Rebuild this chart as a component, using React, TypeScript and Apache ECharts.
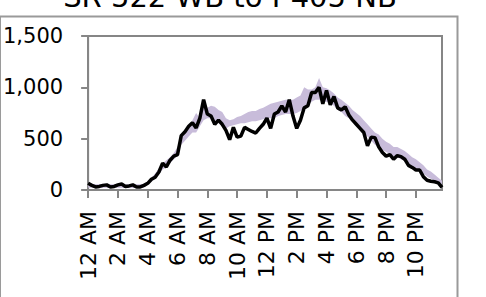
import React, { useEffect, useRef } from "react";
import * as echarts from "echarts";

const hourLabels = ["12 AM", "2 AM", "4 AM", "6 AM", "8 AM", "10 AM", "12 PM", "2 PM", "4 PM", "6 PM", "8 PM", "10 PM"];

// 15-minute intervals over one day
const times: string[] = [];
for (let h = 0; h < 24; h++) {
  for (let m = 0; m < 60; m += 15) {
    times.push(`${h}:${m === 0 ? "00" : m}`);
  }
}

const volume = [
  65, 45, 30, 35, 45, 50, 30, 35, 50, 58, 35, 40, 50, 30, 30, 45,
  65, 105, 125, 175, 262, 225, 290, 330, 345, 530, 568, 620, 655, 605, 700, 880,
  740, 720, 640, 680, 640, 580, 490, 610, 515, 525, 610, 590, 570, 555, 600, 640,
  700, 600, 740, 760, 820, 760, 880, 720, 600, 680, 800, 820, 950, 950, 1000, 840,
  970, 830, 910, 800, 780, 810, 730, 680, 640, 600, 560, 430, 515, 510, 420, 365,
  330, 345, 300, 335, 325, 300, 240, 220, 195, 195, 130, 95, 85, 80, 70, 25,
];

const bandLow = [
  25, 22, 20, 20, 22, 22, 20, 20, 22, 22, 20, 20, 20, 20, 20, 25,
  50, 80, 110, 150, 200, 220, 260, 300, 330, 440, 480, 520, 560, 560, 620, 680,
  700, 700, 680, 650, 620, 600, 620, 630, 640, 650, 650, 660, 670, 670, 680, 690,
  700, 700, 700, 720, 730, 740, 740, 740, 750, 770, 800, 820, 860, 880, 880, 860,
  860, 840, 820, 780, 760, 720, 700, 660, 620, 580, 550, 520, 480, 440, 420, 390,
  370, 350, 330, 320, 300, 280, 260, 230, 210, 190, 160, 130, 110, 90, 70, 50,
];

const bandHigh = [
  70, 60, 55, 55, 60, 60, 55, 55, 60, 65, 55, 55, 60, 55, 55, 60,
  80, 120, 160, 210, 260, 290, 320, 360, 420, 530, 580, 620, 680, 750, 700, 820,
  800, 820, 810, 780, 760, 700, 680, 690, 710, 720, 740, 760, 770, 770, 790, 800,
  820, 840, 850, 860, 870, 880, 880, 880, 900, 920, 1000, 980, 980, 1000, 1090, 1000,
  990, 970, 940, 900, 880, 850, 820, 780, 750, 720, 680, 640, 600, 560, 540, 500,
  470, 450, 420, 420, 400, 380, 350, 320, 300, 270, 240, 200, 180, 150, 120, 90,
];

const bandRange = bandHigh.map((v, i) => v - bandLow[i]);

export default function App() {
  const ref = useRef<HTMLDivElement>(null);
  useEffect(() => {
    if (!ref.current) return;
    const chart = echarts.init(ref.current, null, { renderer: "svg" });
    const font = "DejaVu Sans";
    chart.setOption({
      animation: false,
      backgroundColor: "#ffffff",
      graphic: [
        {
          type: "rect",
          shape: { x: 0, y: 16.5, width: 457.5, height: 300 },
          style: { fill: "none", stroke: "#9a9a9a", lineWidth: 2 },
          z: -1,
        },
        {
          type: "text",
          x: 230,
          y: -3,
          style: {
            text: "SR 522 WB to I-405 NB",
            fontFamily: font,
            fontSize: 29,
            fill: "#000",
            align: "center",
            verticalAlign: "middle",
          },
        },
      ],
      grid: {
        left: 88,
        top: 36,
        right: 44,
        bottom: 107,
        show: true,
        borderColor: "#868686",
        borderWidth: 2,
        backgroundColor: "transparent",
      },
      xAxis: {
        type: "category",
        data: times,
        boundaryGap: false,
        axisLine: { show: true, lineStyle: { color: "#868686", width: 2 } },
        axisTick: { show: true, interval: 7, length: 8, lineStyle: { color: "#868686", width: 2 } },
        axisLabel: {
          interval: 7,
          rotate: 90,
          margin: 21,
          fontFamily: font,
          fontSize: 22,
          color: "#000",
          formatter: (_v: string, idx: number) => (idx % 8 === 0 ? hourLabels[idx / 8] : ""),
        },
        splitLine: { show: false },
      },
      yAxis: {
        type: "value",
        min: 0,
        max: 1500,
        interval: 500,
        axisLine: { show: true, lineStyle: { color: "#868686", width: 2 } },
        axisTick: { show: true, length: 7, lineStyle: { color: "#868686", width: 2 } },
        axisLabel: {
          margin: 25,
          fontFamily: font,
          fontSize: 21,
          color: "#000",
          formatter: (v: number) => v.toLocaleString("en-US"),
        },
        splitLine: { show: false },
      },
      series: [
        {
          type: "line",
          data: bandLow,
          stack: "band",
          symbol: "none",
          lineStyle: { opacity: 0 },
          silent: true,
        },
        {
          type: "line",
          data: bandRange,
          stack: "band",
          symbol: "none",
          lineStyle: { opacity: 0 },
          areaStyle: { color: "#c8bcda", opacity: 1 },
          silent: true,
        },
        {
          type: "line",
          data: volume,
          symbol: "none",
          lineStyle: { color: "#000000", width: 3.5 },
          z: 5,
        },
      ],
    });
    return () => chart.dispose();
  }, []);
  return <div ref={ref} style={{ position: "fixed", left: 0, top: 0, width: 486, height: 297 }} />;
}
